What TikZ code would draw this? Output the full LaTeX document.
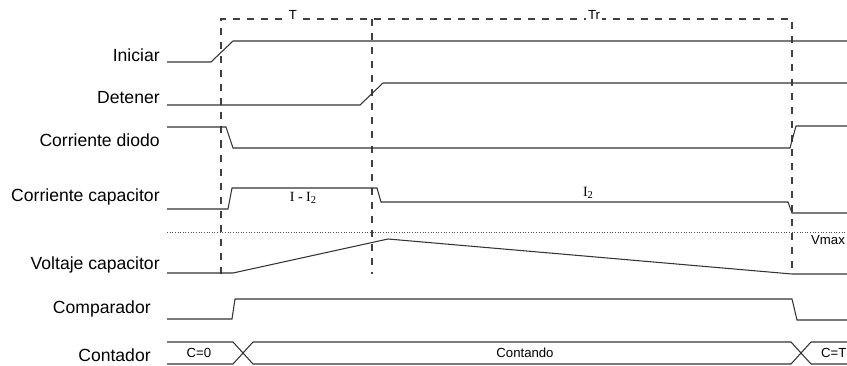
\documentclass[tikz,border=0pt]{standalone}
\usepackage{fontspec}
\setmainfont{Liberation Sans}
\newfontfamily\timesfont{Liberation Serif}
\usetikzlibrary{calc}
\usetikzlibrary{positioning}

\tikzset{
	sig/.style={black!80,line width=0.6pt},
	marca/.style={black!75,line width=0.6pt,dash pattern=on 4pt off 4pt},
	nombre/.style={anchor=east,inner sep=0pt,font=\fontsize{10}{12}\selectfont},
	chico/.style={inner sep=1pt,font=\fontsize{7.5}{9}\selectfont}
}

\begin{document}
\begin{tikzpicture}[x=0.02cm,y=-0.02cm]
	\useasboundingbox (0,0) rectangle (847,365);
	% nombres de las senales
	\node[nombre] (ini) at (160,55) {Iniciar};
	\node[nombre] (det) at (160,98) {Detener};
	\node[nombre] (dio) at (160,140) {Corriente diodo};
	\node[nombre] (cap) at (160,197) {Corriente capacitor};
	\node[nombre] (vol) at (160,265) {Voltaje capacitor};
	\node[nombre] (com) at (151,309) {Comparador};
	\node[nombre] (con) at (151,355) {Contador};
	% intervalos T y Tr
	\coordinate (t0) at (221,19);
	\coordinate (t1) at (372,19);
	\coordinate (t2) at (792,19);
	\draw[marca] (t0|-0,274) -- (t0) -- (t2) -- (t2|-0,274);
	\draw[marca] (t1) -- (t1|-0,274);
	\node[chico,fill=white] (T) at (293,15) {T};
	\node[chico,fill=white] (Tr) at (594,15) {Tr};
	% senales
	\draw[sig] (167,62) -- (211,62) -- (233,41) -- (847,41);
	\draw[sig] (167,105) -- (360,105) -- (383,83) -- (847,83);
	\draw[sig] (167,127) -- (226,127) -- (233,148) -- (790,148) -- (796,126) -- (847,126);
	\draw[sig] (167,209) -- (228,209) -- (232,188) -- (377,188) -- (381,202) -- (788,202) -- (792,213) -- (847,213);
	\node[chico,font=\timesfont\fontsize{8}{9}\selectfont] (ii2) at (303,198) {I - I\raisebox{-0.4ex}{\fontsize{6}{7}\selectfont 2}};
	\node[chico,font=\timesfont\fontsize{8}{9}\selectfont] (i2) at (588,193) {I\raisebox{-0.4ex}{\fontsize{6}{7}\selectfont 2}};
	\draw[black!70,densely dotted,line width=0.5pt] (167,232) -- (847,232);
	\node[chico] (vmax) at (828,240) {Vmax};
	\draw[sig] (167,273) -- (233,273) -- (388,239) -- (792,274) -- (847,274);
	\draw[sig] (167,319) -- (232,319) -- (235,299) -- (792,299) -- (797,320) -- (847,320);
	% contador
	\draw[sig] (167,342) -- (233,342) -- (253,364) -- (791,364) -- (811,342) -- (847,342);
	\draw[sig] (167,364) -- (233,364) -- (253,342) -- (791,342) -- (811,364) -- (847,364);
	\node[chico] (c0) at (199,353) {C=0};
	\node[chico] (cta) at (525,353) {Contando};
	\node[chico,anchor=west] (cT) at (819,353) {C=T};
\end{tikzpicture}
\end{document}
